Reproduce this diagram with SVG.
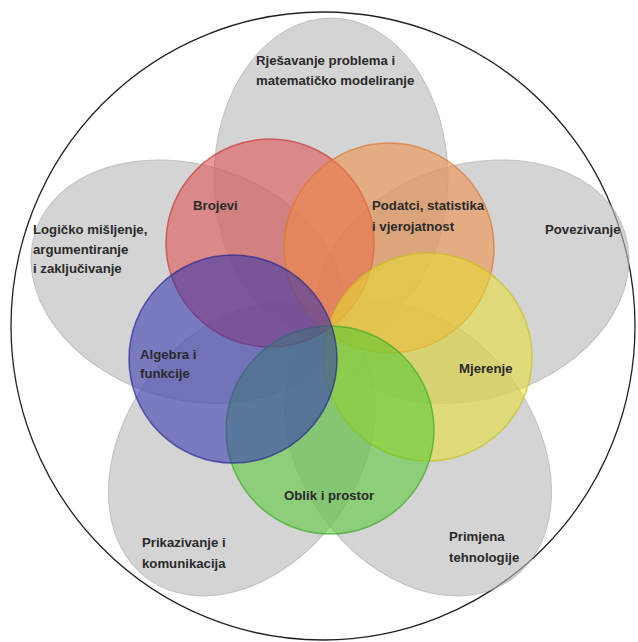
<svg xmlns="http://www.w3.org/2000/svg" width="638" height="642" viewBox="0 0 638 642">
<style>
.petal{fill:#b8b8b8;fill-opacity:0.6;stroke:#a8a8a8;stroke-opacity:0.6;stroke-width:1}
.circ{fill-opacity:0.55;stroke-width:1.5;stroke-opacity:0.7}
.lbl{font-family:"Liberation Sans",Arial,sans-serif;font-size:13.2px;font-weight:bold;fill:#2a2a2a}
</style>
<rect width="638" height="642" fill="#ffffff"/>
<ellipse cx="323" cy="326" rx="312" ry="314" fill="none" stroke="#222" stroke-width="1.3"/>
<g id="petals">
<g id="p-rjesavanje"><ellipse class="petal" cx="0" cy="0" rx="160" ry="117" transform="translate(331,328) rotate(-90) translate(150,0)"/>
<text class="lbl" x="256" y="65">Rješavanje problema i</text><text class="lbl" x="256" y="85">matematičko modeliranje</text></g>
<g id="p-povezivanje"><ellipse class="petal" cx="0" cy="0" rx="160" ry="117" transform="translate(330,328) rotate(-18) translate(150,0)"/>
<text class="lbl" x="545" y="234">Povezivanje</text></g>
<g id="p-primjena"><ellipse class="petal" cx="0" cy="0" rx="160" ry="117" transform="translate(330,328) rotate(54) translate(150,0)"/>
<text class="lbl" x="449" y="541">Primjena</text><text class="lbl" x="449" y="562">tehnologije</text></g>
<g id="p-prikazivanje"><ellipse class="petal" cx="0" cy="0" rx="160" ry="117" transform="translate(330,328) rotate(126) translate(150,0)"/>
<text class="lbl" x="142" y="547">Prikazivanje i</text><text class="lbl" x="142" y="568">komunikacija</text></g>
<g id="p-logicko"><ellipse class="petal" cx="0" cy="0" rx="160" ry="117" transform="translate(330,328) rotate(198) translate(150,0)"/>
<text class="lbl" x="33" y="234">Logičko mišljenje,</text><text class="lbl" x="33" y="254">argumentiranje</text><text class="lbl" x="33" y="273">i zaključivanje</text></g>
</g>
<g id="circles">
<g id="c-brojevi"><circle class="circ" cx="270" cy="243" r="104" fill="#e04848" stroke="#c83838"/></g>
<g id="c-podatci"><circle class="circ" cx="389" cy="248" r="105" fill="#f08a40" stroke="#d87830"/></g>
<g id="c-mjerenje"><circle class="circ" cx="428" cy="357" r="104" fill="#e8e030" stroke="#c8c020"/></g>
<g id="c-oblik"><circle class="circ" cx="330" cy="430" r="104" fill="#50c830" stroke="#40a828"/></g>
<g id="c-algebra"><circle class="circ" cx="233" cy="359" r="104" fill="#3030b0" stroke="#282890"/></g>
</g>
<g id="circle-labels">
<text class="lbl" x="193" y="210">Brojevi</text>
<text class="lbl" x="372" y="210">Podatci, statistika</text><text class="lbl" x="372" y="231">i vjerojatnost</text>
<text class="lbl" x="140" y="359">Algebra i</text><text class="lbl" x="140" y="378">funkcije</text>
<text class="lbl" x="459" y="373">Mjerenje</text>
<text class="lbl" x="284" y="500">Oblik i prostor</text>
</g>
</svg>
